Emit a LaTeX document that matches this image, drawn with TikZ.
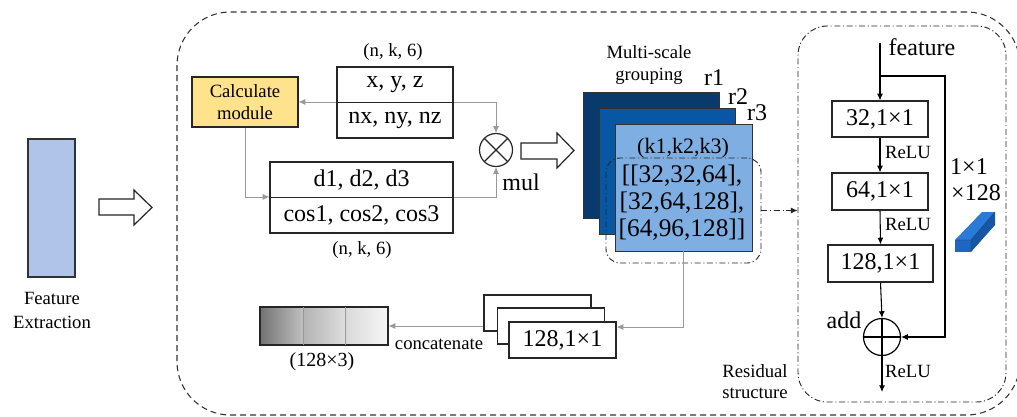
\documentclass[tikz,border=0pt]{standalone}
\usepackage{fontspec}
\setmainfont{Liberation Serif}
\usetikzlibrary{arrows.meta}
\definecolor{featblue}{HTML}{AFC4E8}
\definecolor{calcY}{HTML}{FFE28C}
\definecolor{rone}{HTML}{083A6E}
\definecolor{rtwo}{HTML}{0757A3}
\definecolor{rthree}{HTML}{7EAEE2}
\definecolor{cubeF}{HTML}{1E66C0}
\definecolor{cubeT}{HTML}{2A7BD8}
\definecolor{cubeS}{HTML}{1755A5}
\newcommand{\fsA}{\fontsize{14}{16.5}\selectfont}
\newcommand{\fsB}{\fontsize{18}{21}\selectfont}
\newcommand{\fsC}{\fontsize{19}{20.25}\selectfont}
\begin{document}
\begin{tikzpicture}[x=0.75pt,y=-0.75pt,
  >={Latex[length=5pt,width=4.5pt]},
  box/.style={draw=black!85,line width=0.9pt,inner sep=0pt,fill=white,font=\fsB},
  conn/.style={draw=gray!80,line width=0.6pt},
  blk/.style={draw=black,line width=0.8pt},
  lbl/.style={inner sep=0pt,font=\fsA,align=center},
  lblB/.style={inner sep=0pt,font=\fsB,align=center},
  outerbox/.style={draw=black!80,line width=0.8pt,dash pattern=on 4.5pt off 3pt,rounded corners=40pt,inner sep=0pt},
  dashdot/.style={draw=black!85,line width=0.7pt,dash pattern=on 4.5pt off 2pt on 0.8pt off 2pt},
  hollow/.style={draw=black!85,line width=0.9pt,fill=white,line join=miter},
  stackbox/.style={draw=black!80,line width=0.6pt,inner sep=0pt,minimum width=102pt,minimum height=94.5pt}
]
\useasboundingbox (0,0) rectangle (1017,417);

% feature extraction
\node[draw=black!80,line width=0.8pt,fill=featblue,minimum width=35.25pt,minimum height=103.5pt,inner sep=0pt] (feat) at (51.5,208) {};
\node[lbl,font=\fontsize{14}{18}\selectfont] (featlbl) at (52,310) {Feature\\Extraction};

% hollow arrow 1
\draw[hollow] (99,199) -- (134,199) -- (134,190) -- (152,207.5) -- (134,225) -- (134,215) -- (99,215) -- cycle;

% outer dashed box
\node[outerbox,minimum width=632.25pt,minimum height=302.25pt] (outer) at (598.5,213.5) {};

% calculate module
\node[box,fill=calcY,minimum width=79.5pt,minimum height=37.5pt,align=center,font=\fontsize{14}{16.5}\selectfont] (calc) at (245,102) {Calculate\\module};

% top box
\node[box,minimum width=87pt,minimum height=26.6pt] (xyz) at (395,84.75) {x, y, z};
\node[box,minimum width=87pt,minimum height=26.6pt] (nxyz) at (395,120.25) {nx, ny, nz};
\node[lbl] (nk1) at (393,52) {(n, k, 6)};

% bottom box
\node[box,minimum width=137.25pt,minimum height=26.6pt] (dd) at (361.5,179.75) {d1, d2, d3};
\node[box,minimum width=137.25pt,minimum height=26.6pt] (cos) at (361.5,215.25) {cos1, cos2, cos3};
\node[lbl] (nk2) at (362,250) {(n, k, 6)};

% mul
\node[circle,draw=black!85,line width=0.9pt,minimum size=24.75pt,inner sep=0pt,
  path picture={\draw[black!85,line width=0.9pt] (path picture bounding box.north west) -- (path picture bounding box.south east) (path picture bounding box.north east) -- (path picture bounding box.south west);}] (mul) at (496,150) {};
\node[lblB] (mullbl) at (521,182) {mul};

\draw[conn,->] (nxyz.north west) -- (nxyz.north west -| calc.east);
\draw[conn,->] (nxyz.north east) -| (mul.north);
\draw[conn,->] (calc.south) |- (cos.north west);
\draw[conn,->] (cos.north east) -| (mul.south);

% hollow arrow 2
\draw[hollow] (521,143) -- (557,143) -- (557,133) -- (574,150.5) -- (557,168) -- (557,159) -- (521,159) -- cycle;

% multi-scale grouping
\node[lbl] (msglbl) at (649,65) {Multi-scale\\grouping};
\node[stackbox,fill=rone] (r1s) at (651,155) {};
\node[stackbox,fill=rtwo] (r2s) at (667,171) {};
\node[stackbox,fill=rthree,minimum width=102.75pt,minimum height=95.25pt] (r3s) at (683.5,187.5) {};
\node[lblB] (r1l) at (714,78) {r1};
\node[lblB] (r2l) at (738,97) {r2};
\node[lblB] (r3l) at (757,113) {r3};
\node[inner sep=0pt,font=\fontsize{16.5}{20}\selectfont] (ks) at (683,148) {(k1,k2,k3)};
\node[inner sep=0pt,font=\fsC,align=center] (lists) at (682,203) {[[32,32,64],\\\relax [32,64,128],\\\relax [64,96,128]]};
\node[dashdot,rounded corners=10.5pt,minimum width=116.25pt,minimum height=78.75pt,inner sep=0pt] (msg) at (683.5,210.5) {};

% residual structure
\node[dashdot,rounded corners=22pt,minimum width=156pt,minimum height=282pt,inner sep=0pt] (res) at (902,214) {};
\draw[dashdot,->] (msg.east) -- (msg.east -| res.west);

% 128 stack and concatenate
\node[box,minimum width=80.25pt,minimum height=27pt] (b1) at (537.5,313) {};
\node[box,minimum width=80.25pt,minimum height=27pt] (b2) at (551,326) {};
\node[box,minimum width=80.25pt,minimum height=27pt] (f128) at (562.5,340) {128,1×1};
\coordinate (cj) at (685,327);
\draw[conn,->] (r3s.south) |- (cj -| f128.east);

% gradient box
\shade[left color=black!55,right color=black!25] (260,307) rectangle (303,345);
\shade[left color=black!30,right color=black!13] (303,307) rectangle (345,345);
\shade[left color=black!15,right color=black!3] (345,307) rectangle (388,345);
\node[draw=black!85,line width=0.9pt,minimum width=96pt,minimum height=28.5pt,inner sep=0pt] (grad) at (324,326) {};
\draw[gray!80,line width=0.6pt] (303,307) -- (303,345) (345,307) -- (345,345);
\node[lbl,font=\fontsize{15}{18}\selectfont] (gradlbl) at (322,362) {(128×3)};
\draw[conn,->] (b1.west |- grad.east) -- (grad.east);
\node[lbl] (concat) at (439,344) {concatenate};

% residual internals
\node[lblB] (featin) at (922,47) {feature};
\coordinate (ftop) at (881,43);
\coordinate (fbr) at (881,76);
\coordinate (rc) at (945,200);
\node[box,minimum width=72pt,minimum height=27pt] (b32) at (880,119) {32,1×1};
\node[box,minimum width=72pt,minimum height=27.75pt] (b64) at (880,191.5) {64,1×1};
\node[box,minimum width=78.75pt,minimum height=27.75pt] (b128) at (880.5,263.5) {128,1×1};
\node[circle,draw=black,line width=0.9pt,minimum size=27.75pt,inner sep=0pt,
  path picture={\draw[black,line width=0.9pt] (path picture bounding box.north) -- (path picture bounding box.south) (path picture bounding box.west) -- (path picture bounding box.east);}] (add) at (882,337) {};
\coordinate (rend) at (882,392);
\draw[blk,->] (b32.north |- ftop) -- (b32.north);
\draw[blk,->] (b32.north |- fbr) -| (rc) |- (add.east);
\draw[blk,->] (b32.south) -- (b64.north);
\draw[blk,->] (b64.south) -- (b128.north);
\draw[blk,->] (b128.south) -- (add.north);
\draw[blk,->] (add.south) -- (rend);
\node[lbl] (relu1) at (908,152) {ReLU};
\node[lbl] (relu2) at (908,224) {ReLU};
\node[lbl] (relu3) at (908,371) {ReLU};
\node[lblB] (addl) at (844,320) {add};
\node[lblB] (k11) at (969,167) {1×1};
\node[lblB] (k128) at (976,193) {×128};
\node[lbl,font=\fontsize{14}{15.75}\selectfont] (reslbl) at (755,382) {Residual\\structure};

% cuboid
\fill[cubeT] (955,240) -- (982,212) -- (995,212) -- (971,240) -- cycle;
\fill[cubeS] (971,240) -- (995,212) -- (995,225) -- (971,252) -- cycle;
\fill[cubeF] (955,240) rectangle (971,252);
\draw[cubeS!70!black,line width=0.3pt] (955,240) -- (971,240) -- (995,212) (971,240) -- (971,252);
\end{tikzpicture}
\end{document}
